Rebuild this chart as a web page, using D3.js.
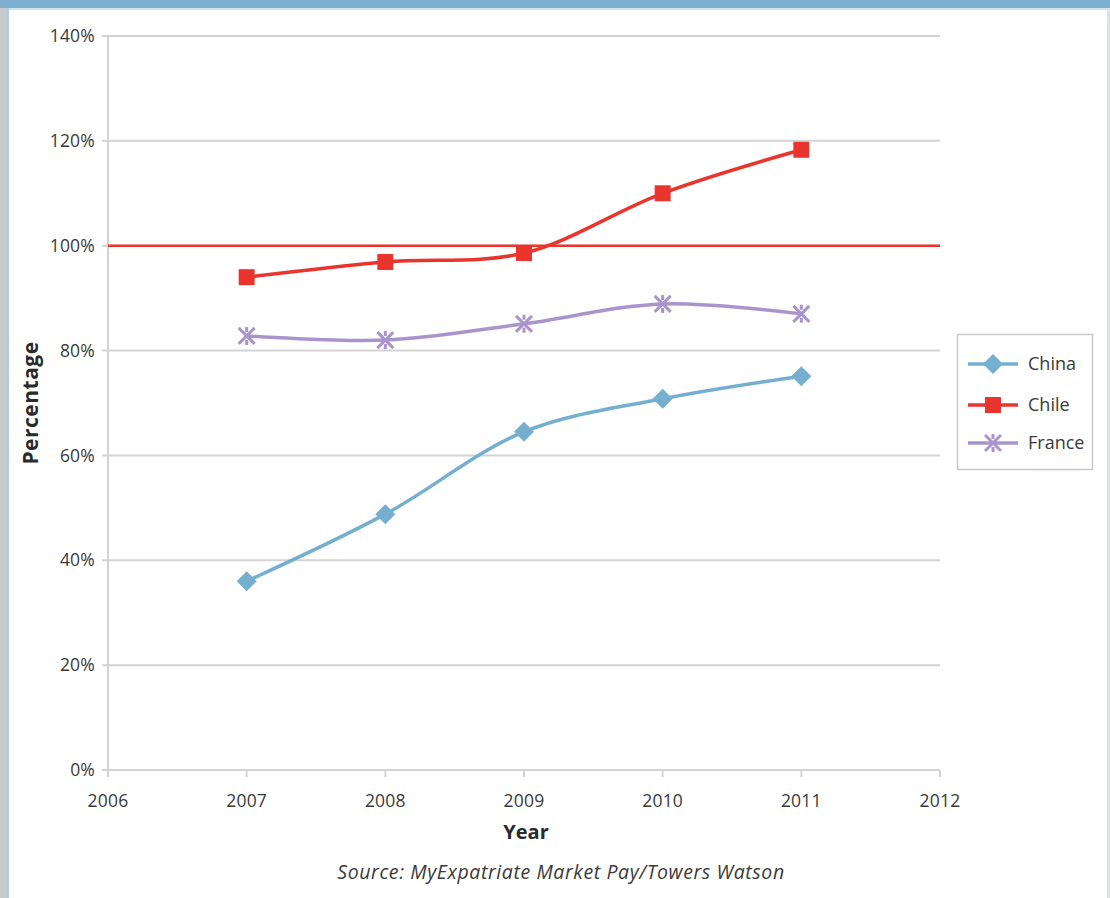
<!DOCTYPE html>
<html>
<head>
<meta charset="utf-8">
<script src="https://cdn.jsdelivr.net/npm/d3@7"></script>
<style>
  html, body { margin: 0; padding: 0; background: #fff; }
  svg { display: block; }
</style>
</head>
<body>
<svg id="chart" width="1110" height="898"></svg>
<script>
// Expatriate pay as a percentage of local market pay
const years = [2007, 2008, 2009, 2010, 2011];
const chinaValues  = [36.0, 48.8, 64.5, 70.8, 75.1];
const chileValues  = [94.0, 96.9, 98.6, 110.0, 118.3];
const franceValues = [82.8, 82.0, 85.1, 88.9, 87.0];
const seriesNames = ["China", "Chile", "France"];
const yTicks = [0, 20, 40, 60, 80, 100, 120, 140];
const xTicks = [2006, 2007, 2008, 2009, 2010, 2011, 2012];
const referenceLevel = 100;

const colors = { China: "#74afd0", Chile: "#e9352e", France: "#a995cc" };
const markers = { China: "diamond", Chile: "square", France: "cross" };

const series = [
  { name: "China", values: chinaValues },
  { name: "Chile", values: chileValues },
  { name: "France", values: franceValues }
];

const svg = d3.select("#chart");
const W = 1110, H = 898;
const font = "'Open Sans', 'DejaVu Sans', sans-serif";

// page frame: grey strip on the left, blue band on top, thin rule on the right
svg.append("rect").attr("x", 0).attr("y", 0).attr("width", 7).attr("height", H).attr("fill", "#c9cccc");
svg.append("rect").attr("x", 7).attr("y", 0).attr("width", 2).attr("height", H).attr("fill", "#a9d0e6");
svg.append("rect").attr("x", 0).attr("y", 0).attr("width", W).attr("height", 8).attr("fill", "#7db0d0");
svg.append("rect").attr("x", 9).attr("y", 8).attr("width", W - 9).attr("height", 2).attr("fill", "#cfe3ef");
svg.append("rect").attr("x", 1107).attr("y", 8).attr("width", 3).attr("height", H).attr("fill", "#dde3ea");

const x = d3.scaleLinear().domain([2006, 2012]).range([108, 940]);
const y = d3.scaleLinear().domain([0, 140]).range([770, 36]);

// horizontal gridlines
svg.append("g")
  .selectAll("line")
  .data(yTicks)
  .join("line")
  .attr("x1", x(2006) - 6).attr("x2", x(2012))
  .attr("y1", d => y(d)).attr("y2", d => y(d))
  .attr("stroke", "#d3d3d3").attr("stroke-width", 2);

// vertical axis line
svg.append("line")
  .attr("x1", x(2006)).attr("x2", x(2006))
  .attr("y1", y(140)).attr("y2", y(0) + 6)
  .attr("stroke", "#d3d3d3").attr("stroke-width", 2);

// x ticks
svg.append("g")
  .selectAll("line")
  .data(xTicks)
  .join("line")
  .attr("x1", d => x(d)).attr("x2", d => x(d))
  .attr("y1", y(0)).attr("y2", y(0) + 7)
  .attr("stroke", "#d3d3d3").attr("stroke-width", 2);

// y tick labels
svg.append("g")
  .selectAll("text")
  .data(yTicks)
  .join("text")
  .attr("x", 95).attr("y", d => y(d))
  .attr("dy", "0.35em")
  .attr("text-anchor", "end")
  .attr("font-family", font).attr("font-size", 17.5)
  .attr("letter-spacing", "0.2")
  .attr("fill", "#3a3a3a")
  .text(d => d + "%");

// x tick labels
svg.append("g")
  .selectAll("text")
  .data(xTicks)
  .join("text")
  .attr("x", d => x(d)).attr("y", 807)
  .attr("text-anchor", "middle")
  .attr("font-family", font).attr("font-size", 17.5)
  .attr("letter-spacing", "0.2")
  .attr("fill", "#3a3a3a")
  .text(d => d);

// axis titles
svg.append("text")
  .attr("x", 526).attr("y", 839)
  .attr("text-anchor", "middle")
  .attr("font-family", font).attr("font-size", 20).attr("font-weight", "bold")
  .attr("fill", "#2a2a2a")
  .text("Year");

svg.append("text")
  .attr("transform", "translate(38,403) rotate(-90)")
  .attr("text-anchor", "middle")
  .attr("font-family", font).attr("font-size", 21).attr("font-weight", "bold")
  .attr("letter-spacing", "0.5")
  .attr("fill", "#2a2a2a")
  .text("Percentage");

// source note
svg.append("text")
  .attr("x", 561).attr("y", 879)
  .attr("text-anchor", "middle")
  .attr("font-family", font).attr("font-size", 19.5).attr("font-style", "italic")
  .attr("letter-spacing", "0.6")
  .attr("fill", "#3a3a3a")
  .text("Source: MyExpatriate Market Pay/Towers Watson");

// 100% reference line
svg.append("line")
  .attr("x1", x(2006)).attr("x2", x(2012))
  .attr("y1", y(referenceLevel)).attr("y2", y(referenceLevel))
  .attr("stroke", colors.Chile).attr("stroke-width", 2.5);

// marker drawing
function drawMarker(g, type, color) {
  if (type === "diamond") {
    g.append("path").attr("d", "M0,-10L10,0L0,10L-10,0Z").attr("fill", color);
  } else if (type === "square") {
    g.append("rect").attr("x", -8).attr("y", -8).attr("width", 16).attr("height", 16).attr("fill", color);
  } else {
    g.append("path").attr("d", "M-8,-8L8,8M-8,8L8,-8M0,-9V-4M0,4V9")
      .attr("stroke", color).attr("stroke-width", 3).attr("fill", "none");
  }
}

const line = d3.line()
  .x((d, i) => x(years[i]))
  .y(d => y(d))
  .curve(d3.curveCatmullRom.alpha(0.5));

series.forEach(s => {
  svg.append("path")
    .datum(s.values)
    .attr("d", line)
    .attr("fill", "none")
    .attr("stroke", colors[s.name])
    .attr("stroke-width", 3.5)
    .attr("stroke-linejoin", "round");
  s.values.forEach((v, i) => {
    const g = svg.append("g").attr("transform", `translate(${x(years[i])},${y(v)})`);
    drawMarker(g, markers[s.name], colors[s.name]);
  });
});

// legend
const legend = svg.append("g");
legend.append("rect")
  .attr("x", 957.5).attr("y", 334.5).attr("width", 135).attr("height", 135)
  .attr("fill", "#fff").attr("stroke", "#c8c8c8").attr("stroke-width", 1.5);
const legendY = [364, 405, 443];
seriesNames.forEach((name, i) => {
  const ly = legendY[i];
  legend.append("line")
    .attr("x1", 968).attr("x2", 1018).attr("y1", ly).attr("y2", ly)
    .attr("stroke", colors[name]).attr("stroke-width", 3.5);
  const g = legend.append("g").attr("transform", `translate(993,${ly})`);
  drawMarker(g, markers[name], colors[name]);
  legend.append("text")
    .attr("x", 1028).attr("y", ly).attr("dy", "0.35em")
    .attr("font-family", font).attr("font-size", 18)
    .attr("letter-spacing", "0")
    .attr("fill", "#3a3a3a")
    .text(name);
});
</script>
</body>
</html>
